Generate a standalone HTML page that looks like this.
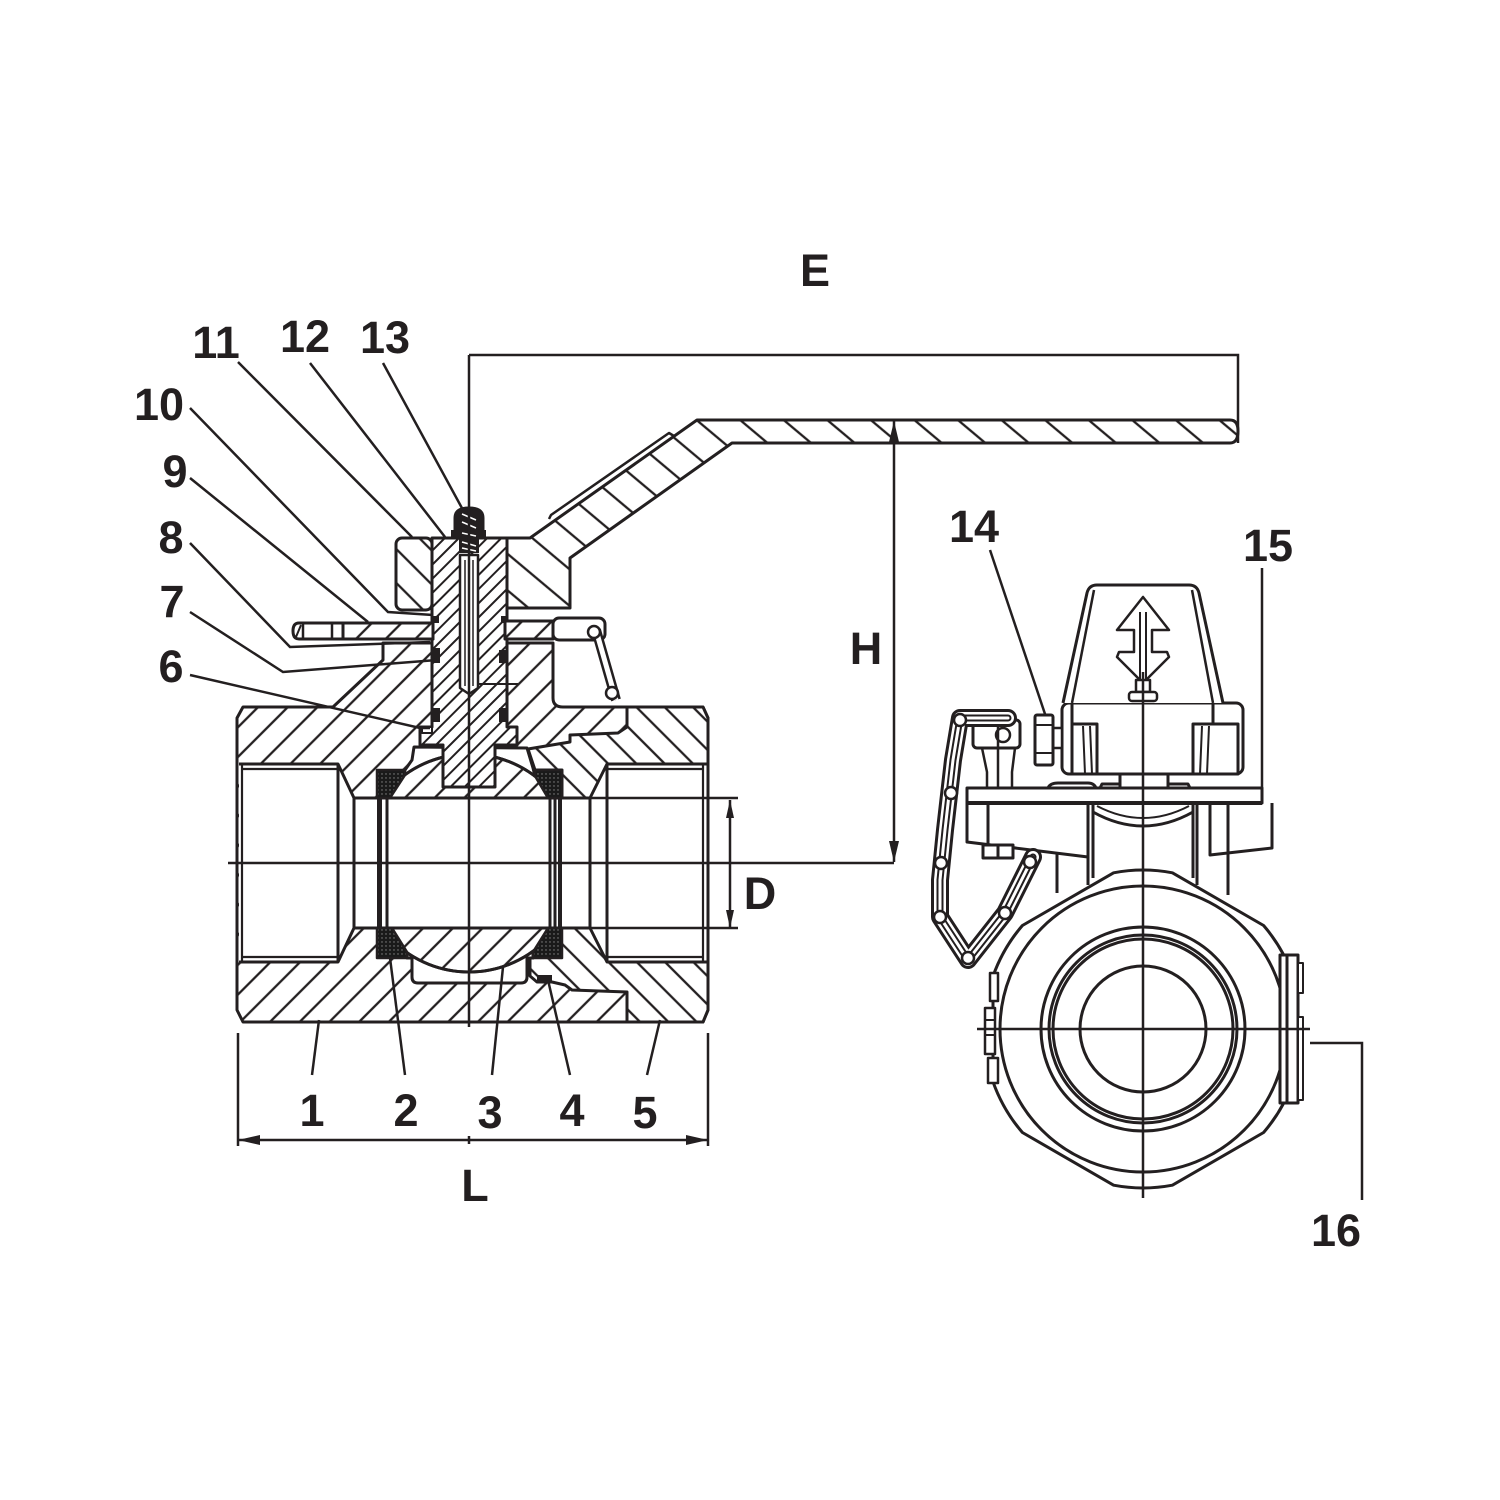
<!DOCTYPE html>
<html><head><meta charset="utf-8"><style>
html,body{margin:0;padding:0;background:#fff;}
svg{display:block}
text{font-family:"Liberation Sans",Arial,sans-serif;font-weight:bold;font-size:45px;fill:#231f20;text-anchor:middle}
</style></head><body>
<svg width="1500" height="1500" viewBox="0 0 1500 1500" xmlns="http://www.w3.org/2000/svg">
<defs>
<pattern id="hA" patternUnits="userSpaceOnUse" width="21" height="21" patternTransform="rotate(45)"><rect width="21" height="21" fill="#fff"/><line x1="10.5" y1="0" x2="10.5" y2="21" stroke="#231f20" stroke-width="2.3"/></pattern>
<pattern id="hB" patternUnits="userSpaceOnUse" width="20" height="20" patternTransform="rotate(-45)"><rect width="20" height="20" fill="#fff"/><line x1="10" y1="0" x2="10" y2="20" stroke="#231f20" stroke-width="2.3"/></pattern>
<pattern id="hS" patternUnits="userSpaceOnUse" width="10" height="10" patternTransform="rotate(45)"><rect width="10" height="10" fill="#fff"/><line x1="5" y1="0" x2="5" y2="10" stroke="#231f20" stroke-width="2"/></pattern>
<pattern id="hH" patternUnits="userSpaceOnUse" width="28" height="28" patternTransform="rotate(-50)"><rect width="28" height="28" fill="#fff"/><line x1="14" y1="0" x2="14" y2="28" stroke="#231f20" stroke-width="2.3"/></pattern>
<pattern id="hN" patternUnits="userSpaceOnUse" width="24" height="24" patternTransform="rotate(-45)"><rect width="24" height="24" fill="#fff"/><line x1="12" y1="0" x2="12" y2="24" stroke="#231f20" stroke-width="2.3"/></pattern>
<pattern id="dots" patternUnits="userSpaceOnUse" width="4" height="4"><rect width="4" height="4" fill="#1a1a1a"/><circle cx="2" cy="2" r="0.7" fill="#888"/></pattern>
<clipPath id="cTop"><path d="M405,770 L412,760 L414,747 L527,748 L533,768 L535,776 L548,798 L390,798 Z"/></clipPath>
<clipPath id="cBot"><path d="M392,928 L548,928 L533,952 L533,958 L527,958 L527,977 Q527,983 521,983 L418,983 Q412,983 412,977 L412,958 L407,958 L407,952 Z"/></clipPath>
</defs>

<g stroke="#231f20" stroke-width="3" stroke-linejoin="round" fill="none">
<!-- BODY part 1 -->
<path d="M237,718 L243,707 L333,707 L383,660 L383,643 L553,643 L553,698 Q553,707 563,707 L703,707 L708,718 L708,1010 L703,1022 L243,1022 L237,1010 Z" fill="url(#hA)"/>
<!-- insert part 5 -->
<path d="M627,707 L703,707 L708,718 L708,768 L612,768 L597,798 L562,798 L562,770 L535,770 L528,749 L552,745 L570,742 L570,735 L618,733 L627,727 Z" fill="url(#hB)"/>
<path d="M533,928 L593,928 L607,957 L708,957 L708,1010 L703,1022 L627,1022 L627,992 L572,990 L565,985 L552,982 L537,982 L530,976 L530,958 L533,958 Z" fill="url(#hB)"/>
<!-- bore -->
<path d="M239,764 L338,764 L354,798 L590,798 L607,764 L707,764 L707,962 L607,962 L590,928 L354,928 L338,962 L239,962 Z" fill="#fff" stroke="none"/>
<path d="M239,764 L338,764 L354,798 L590,798 L607,764 L707,764 M707,962 L607,962 L590,928 L354,928 L338,962 L239,962"/>
<line x1="237" y1="718" x2="237" y2="1010"/>
<line x1="708" y1="718" x2="708" y2="1010"/>
<line x1="242" y1="764" x2="242" y2="962" stroke-width="2.2"/>
<line x1="703" y1="764" x2="703" y2="962" stroke-width="2.2"/>
<line x1="242" y1="769" x2="338" y2="769" stroke-width="2.2"/>
<line x1="242" y1="957" x2="338" y2="957" stroke-width="2.2"/>
<line x1="607" y1="769" x2="703" y2="769" stroke-width="2.2"/>
<line x1="607" y1="957" x2="703" y2="957" stroke-width="2.2"/>
<line x1="338" y1="764" x2="338" y2="962"/>
<line x1="354" y1="798" x2="354" y2="928"/>
<line x1="590" y1="798" x2="590" y2="928"/>
<line x1="607" y1="764" x2="607" y2="962"/>
<line x1="387" y1="798" x2="387" y2="928"/>
<line x1="550" y1="798" x2="550" y2="928"/>
<line x1="555" y1="798" x2="555" y2="928"/>
<rect x="377" y="798" width="5" height="130" fill="#231f20" stroke="none"/>
<rect x="558" y="798" width="4" height="130" fill="#231f20" stroke="none"/>

<!-- cavities & ball -->
<path d="M405,770 L412,760 L414,747 L527,748 L533,768 L535,776 L548,798 L390,798 Z" fill="#fff"/>
<circle cx="469" cy="863" r="109" fill="url(#hA)" clip-path="url(#cTop)"/>
<circle cx="469" cy="863" r="109" clip-path="url(#cTop)"/>
<path d="M392,928 L548,928 L533,952 L533,958 L527,958 L527,977 Q527,983 521,983 L418,983 Q412,983 412,977 L412,958 L407,958 L407,952 Z" fill="#fff"/>
<circle cx="469" cy="863" r="109" fill="url(#hA)" clip-path="url(#cBot)"/>
<circle cx="469" cy="863" r="109" clip-path="url(#cBot)"/>
<line x1="354" y1="928" x2="590" y2="928"/>
<line x1="354" y1="798" x2="590" y2="798"/>

<!-- seats -->
<path d="M377,770 L405,770 L405,775 L390,798 L377,798 Z" fill="url(#dots)" stroke-width="2.5"/>
<path d="M377,928 L392,928 L407,952 L407,958 L377,958 Z" fill="url(#dots)" stroke-width="2.5"/>
<path d="M535,770 L562,770 L562,798 L548,798 L535,776 Z" fill="url(#dots)" stroke-width="2.5"/>
<path d="M548,928 L562,928 L562,958 L533,958 L533,952 Z" fill="url(#dots)" stroke-width="2.5"/>
<rect x="537" y="975" width="15" height="7" fill="#231f20" stroke="none"/>

<!-- stem -->
<path d="M432,538 L507,538 L507,727 L517,727 L517,745 L495,745 L495,787 L443,787 L443,745 L420,745 L420,727 L432,727 Z" fill="url(#hS)"/>
<rect x="422" y="727" width="10" height="6" fill="#fff" stroke-width="2"/>
<path d="M460,555 L478,555 L478,688 L469,694 L460,688 Z" fill="#fff" stroke-width="2.5"/>
<line x1="465" y1="560" x2="465" y2="686" stroke-width="1.5"/>
<line x1="473" y1="560" x2="473" y2="686" stroke-width="1.5"/>
<line x1="478" y1="684" x2="518" y2="684" stroke-width="2"/>
<!-- o-rings -->
<g fill="#231f20" stroke="none">
<rect x="433" y="648" width="7" height="15"/><rect x="433" y="708" width="7" height="14"/>
<rect x="499" y="650" width="8" height="13"/><rect x="499" y="708" width="8" height="14"/>
<rect x="433" y="616" width="6" height="7"/><rect x="501" y="616" width="6" height="7"/>
</g>
<!-- block & handle -->
<rect x="396" y="538" width="36" height="72" rx="6" fill="url(#hN)"/>
<path d="M507,538 L530,538 L697,420 L1230,420 Q1238,420 1238,431 Q1238,443 1230,443 L732,443 L570,558 L570,608 L507,608 Z" fill="url(#hH)"/>
<path d="M549,519 L551,515 L669,433 L674,436" stroke-width="2.5"/>
<!-- spring 13 -->
<path d="M455,532 L455,518 Q455,508 469,508 Q483,508 483,518 L483,532 Z" fill="#231f20"/>
<rect x="451" y="530" width="35" height="9" fill="#231f20" stroke="none"/>
<rect x="459" y="539" width="20" height="14" fill="#231f20" stroke="none"/>
<path d="M462,514 L476,520 M462,522 L476,528 M462,533 L476,536 M462,542 L476,546 M462,548 L476,551" stroke="#fff" stroke-width="1.5"/>
<!-- washer 9 -->
<path d="M299,623 L433,623 L433,639 L299,639 Q293,639 293,631 Q293,623 299,623 Z" fill="#fff"/>
<rect x="343" y="623" width="90" height="16" fill="url(#hA)"/>
<line x1="303" y1="623" x2="303" y2="639" stroke-width="2.5"/>
<line x1="332" y1="623" x2="332" y2="639" stroke-width="2.5"/>
<line x1="296" y1="637" x2="301" y2="625" stroke-width="2"/>
<rect x="505" y="621" width="48" height="18" fill="url(#hA)"/>
<rect x="553" y="618" width="52" height="22" rx="6" fill="#fff"/>
<!-- chain left view -->
<path d="M596,630 L616,700" stroke-width="10"/>
<path d="M596,630 L616,700" stroke="#fff" stroke-width="5"/>
<circle cx="594" cy="632" r="6" stroke-width="2.5" fill="#fff"/>
<circle cx="612" cy="693" r="6" stroke-width="2.5" fill="#fff"/>
</g>

<!-- dimension & center lines -->
<g stroke="#231f20" stroke-width="2.5" fill="none">
<line x1="228" y1="863" x2="894" y2="863"/>
<line x1="469" y1="355" x2="469" y2="1027"/>
<polyline points="469,355 1238,355 1238,443"/>
<line x1="894" y1="421" x2="894" y2="862"/>
<line x1="590" y1="798" x2="738" y2="798"/>
<line x1="590" y1="928" x2="738" y2="928"/>
<line x1="730" y1="800" x2="730" y2="928"/>
<line x1="238" y1="1033" x2="238" y2="1146"/>
<line x1="708" y1="1033" x2="708" y2="1146"/>
<line x1="238" y1="1140" x2="708" y2="1140"/>
<line x1="469" y1="1136" x2="469" y2="1144"/>
</g>
<g fill="#231f20">
<polygon points="894,421 889,442 899,442"/>
<polygon points="894,862 889,841 899,841"/>
<polygon points="730,800 726,818 734,818"/>
<polygon points="730,928 726,910 734,910"/>
<polygon points="238,1140 260,1135 260,1145"/>
<polygon points="708,1140 686,1135 686,1145"/>
</g>

<!-- leaders -->
<g stroke="#231f20" stroke-width="2.5" fill="none">
<line x1="238" y1="362" x2="412" y2="537"/>
<line x1="310" y1="363" x2="445" y2="537"/>
<line x1="383" y1="363" x2="463" y2="510"/>
<polyline points="190,408 388,612 433,615"/>
<line x1="190" y1="478" x2="368" y2="622"/>
<polyline points="190,543 290,647 430,642"/>
<polyline points="190,612 283,672 437,660"/>
<polyline points="190,675 420,728 430,728"/>
<line x1="319" y1="1020" x2="312" y2="1075"/>
<line x1="390" y1="958" x2="405" y2="1075"/>
<line x1="503" y1="967" x2="492" y2="1075"/>
<line x1="548" y1="980" x2="570" y2="1075"/>
<line x1="660" y1="1020" x2="647" y2="1075"/>
<line x1="990" y1="550" x2="1045" y2="714"/>
<line x1="1262" y1="568" x2="1262" y2="790"/>
<polyline points="1310,1043 1362,1043 1362,1200"/>
</g>

<!-- RIGHT VIEW -->
<g stroke="#231f20" stroke-width="3" fill="none" stroke-linejoin="round">
<!-- neck lines -->
<line x1="1057" y1="848" x2="1057" y2="893"/>
<line x1="1088" y1="803" x2="1088" y2="885"/>
<line x1="1093" y1="803" x2="1093" y2="878"/>
<line x1="1193" y1="803" x2="1193" y2="878"/>
<line x1="1197" y1="803" x2="1197" y2="885"/>
<line x1="1228" y1="803" x2="1228" y2="895"/>
<path d="M1093,812 Q1143,840 1193,812"/>
<path d="M1097,806 Q1143,830 1189,806" stroke-width="2"/>
<!-- lugs under plate -->
<path d="M967,803 L967,842 L1088,857 L1088,803" fill="#fff"/>
<line x1="988" y1="803" x2="988" y2="845"/>
<rect x="983" y="845" width="30" height="13" fill="#fff"/>
<line x1="998" y1="845" x2="998" y2="858"/>
<path d="M1210,803 L1210,855 L1272,848 L1272,803" fill="#fff"/>
<line x1="1228" y1="803" x2="1228" y2="853"/>
<!-- nut -->
<path d="M1172.4,872.8 L1263.6,925.5 A159,159 0 0 1 1293,976.3 L1293,1081.7 A159,159 0 0 1 1263.6,1132.5 L1172.4,1185.2 A159,159 0 0 1 1113.6,1185.2 L1022.4,1132.5 A159,159 0 0 1 993,1081.7 L993,976.3 A159,159 0 0 1 1022.4,925.5 L1113.6,872.8 A159,159 0 0 1 1172.4,872.8 Z" fill="#fff"/>
<circle cx="1143" cy="1029" r="143"/>
<circle cx="1143" cy="1029" r="102"/>
<circle cx="1143" cy="1029" r="94"/>
<circle cx="1143" cy="1029" r="90"/>
<circle cx="1143" cy="1029" r="63"/>
<!-- side lugs -->
<rect x="1280" y="955" width="18" height="148" fill="#fff"/>
<line x1="1287" y1="955" x2="1287" y2="1103"/>
<rect x="1298" y="963" width="5" height="30" fill="#fff" stroke-width="2"/>
<rect x="1298" y="1017" width="5" height="83" fill="#fff" stroke-width="2"/>
<rect x="990" y="973" width="8" height="28" fill="#fff" stroke-width="2.5"/>
<rect x="985" y="1008" width="10" height="46" fill="#fff" stroke-width="2.5"/>
<rect x="988" y="1058" width="10" height="25" fill="#fff" stroke-width="2.5"/>
<line x1="985" y1="1020" x2="995" y2="1020" stroke-width="2"/>
<line x1="985" y1="1035" x2="995" y2="1035" stroke-width="2"/>
<!-- plate 15 -->
<path d="M1048,788 Q1050,783 1058,783 L1088,783 Q1094,783 1096,788" fill="#fff"/>
<path d="M1100,788 L1102,784 L1188,784 L1190,788" fill="#fff"/>
<rect x="967" y="788" width="295" height="15" fill="#fff"/>
<line x1="967" y1="803" x2="1262" y2="803" stroke-width="4"/>
<!-- cap -->
<rect x="1120" y="774" width="48" height="14" fill="#fff"/>
<rect x="1062" y="703" width="181" height="71" rx="7" fill="#fff"/>
<line x1="1072" y1="703" x2="1072" y2="774"/>
<line x1="1213" y1="703" x2="1213" y2="724"/>
<rect x="1072" y="724" width="25" height="50" fill="#fff"/>
<line x1="1083" y1="726" x2="1085" y2="774" stroke-width="2"/>
<line x1="1090" y1="726" x2="1092" y2="774" stroke-width="2"/>
<rect x="1193" y="724" width="45" height="50" fill="#fff"/>
<line x1="1202" y1="726" x2="1200" y2="774" stroke-width="2"/>
<line x1="1209" y1="726" x2="1207" y2="774" stroke-width="2"/>
<path d="M1063,703 L1087,593 Q1089,585 1097,585 L1189,585 Q1197,585 1199,593 L1223,703" fill="#fff"/>
<line x1="1072" y1="703" x2="1094" y2="590" stroke-width="2.5"/>
<line x1="1213" y1="703" x2="1192" y2="590" stroke-width="2.5"/>
<path d="M1143,597 L1117,630 L1134,630 L1134,652 L1119,652 L1117,657 L1143,683 L1169,657 L1167,652 L1152,652 L1152,630 L1169,630 Z" fill="#fff" stroke-width="2.5"/>
<line x1="1140" y1="612" x2="1140" y2="680" stroke-width="2"/>
<line x1="1146" y1="612" x2="1146" y2="680" stroke-width="2"/>
<rect x="1136" y="680" width="14" height="12" fill="#fff" stroke-width="2.5"/>
<rect x="1129" y="692" width="28" height="9" rx="3" fill="#fff" stroke-width="2.5"/>
<!-- nut 14 -->
<rect x="1053" y="728" width="9" height="20" fill="#fff" stroke-width="2.5"/>
<rect x="1035" y="715" width="18" height="50" rx="2" fill="#fff"/>
<line x1="1035" y1="725" x2="1053" y2="725" stroke-width="2"/>
<line x1="1035" y1="753" x2="1053" y2="753" stroke-width="2"/>
<!-- chain tab -->
<path d="M982,748 L987,772 L987,788 M1015,748 L1012,772 L1012,788 M998,748 L998,788" stroke-width="2.5"/>
<rect x="973" y="720" width="47" height="28" rx="4" fill="#fff"/>
<line x1="998" y1="720" x2="998" y2="748" stroke-width="2.5"/>
<circle cx="1003" cy="735" r="7" stroke-width="2.5"/>
</g>
<!-- chain -->
<g fill="none" stroke-linecap="round" stroke-linejoin="round">
<polyline points="1008,718 960,718 953,760 945,830 940,880 940,917 968,960 1005,913 1033,857" stroke="#231f20" stroke-width="18"/>
<polyline points="1008,718 960,718 953,760 945,830 940,880 940,917 968,960 1005,913 1033,857" stroke="#fff" stroke-width="12"/>
<polyline points="1008,718 960,718 953,760 945,830 940,880 940,917 968,960 1005,913 1033,857" stroke="#231f20" stroke-width="7"/>
<polyline points="1008,718 960,718 953,760 945,830 940,880 940,917 968,960 1005,913 1033,857" stroke="#fff" stroke-width="3"/>
<g stroke="#231f20" stroke-width="2.5" fill="#fff">
<circle cx="960" cy="720" r="6"/><circle cx="951" cy="793" r="6"/><circle cx="941" cy="863" r="6"/><circle cx="940" cy="917" r="6"/><circle cx="968" cy="958" r="6"/><circle cx="1005" cy="913" r="6"/><circle cx="1030" cy="862" r="6"/>
</g>
</g>
<g stroke="#231f20" stroke-width="2.5">
<line x1="977" y1="1029" x2="1310" y2="1029"/>
<line x1="1143" y1="672" x2="1143" y2="1198"/>
</g>

<!-- labels -->
<text x="815" y="286">E</text>
<text x="216" y="358">11</text>
<text x="305" y="352">12</text>
<text x="385" y="353">13</text>
<text x="159" y="420">10</text>
<text x="175" y="487">9</text>
<text x="171" y="553">8</text>
<text x="172" y="617">7</text>
<text x="171" y="682">6</text>
<text x="974" y="542">14</text>
<text x="1268" y="561">15</text>
<text x="866" y="664">H</text>
<text x="760" y="909">D</text>
<text x="1336" y="1246">16</text>
<text x="312" y="1126">1</text>
<text x="406" y="1126">2</text>
<text x="490" y="1128">3</text>
<text x="572" y="1126">4</text>
<text x="645" y="1128">5</text>
<text x="475" y="1201">L</text>
</svg>
</body></html>
